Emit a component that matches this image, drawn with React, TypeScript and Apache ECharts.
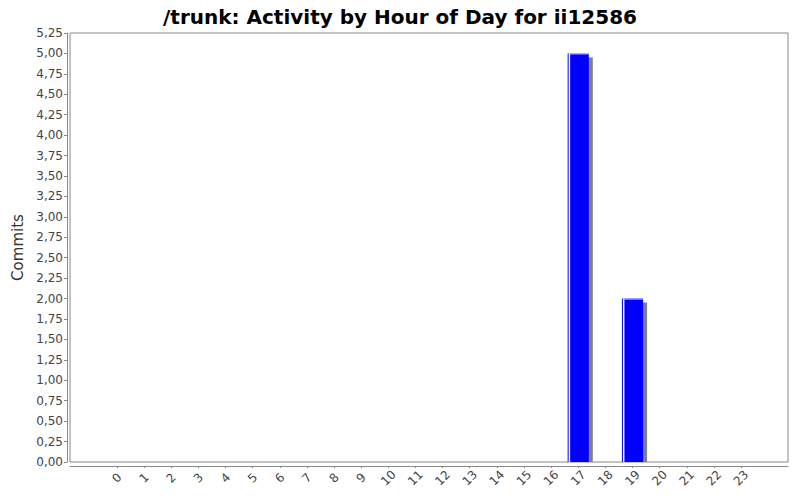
import React, { useEffect, useRef } from "react";
import * as echarts from "echarts";

const hours = Array.from({ length: 24 }, (_, i) => String(i));
const commits = [0, 0, 0, 0, 0, 0, 0, 0, 0, 0, 0, 0, 0, 0, 0, 0, 0, 5, 0, 2, 0, 0, 0, 0];
const chartTitle = "/trunk: Activity by Hour of Day for ii12586";
const yName = "Commits";
const yMax = 5.25;
const yStep = 0.25;

const FONT = "DejaVu Sans";

export default function App() {
  const ref = useRef<HTMLDivElement>(null);
  useEffect(() => {
    if (!ref.current) return;
    const chart = echarts.init(ref.current, undefined, { renderer: "svg" });
    const data = commits
      .map((v, i) => [i, v])
      .filter((d) => d[1] > 0);
    chart.setOption({
      animation: false,
      backgroundColor: "#ffffff",
      title: {
        text: chartTitle,
        left: "center",
        top: 2,
        textStyle: { fontFamily: FONT, fontWeight: "bold", fontSize: 20, color: "#000" },
      },
      grid: [
        { left: 70, right: 12, top: 33, bottom: 38, show: true, borderColor: "#888", borderWidth: 1, backgroundColor: "#fff" },
        { left: 103.4, right: 45.4, top: 33, bottom: 38 },
      ],
      xAxis: [
        {
          type: "value",
          gridIndex: 0,
          min: 0,
          max: 1,
          offset: 4,
          axisLine: { show: true, onZero: false, lineStyle: { color: "#888" } },
          axisTick: { show: false },
          axisLabel: { show: false },
          splitLine: { show: false },
        },
        {
          type: "category",
          gridIndex: 1,
          data: hours,
          offset: 4,
          axisLine: { show: false, onZero: false },
          axisTick: { show: true, alignWithLabel: true, length: 2, lineStyle: { color: "#888" } },
          axisLabel: {
            rotate: 45,
            interval: 0,
            margin: 12,
            align: "center",
            verticalAlign: "middle",
            fontFamily: FONT,
            fontSize: 12,
            color: "#444",
          },
        },
      ],
      yAxis: [
        {
          type: "value",
          gridIndex: 0,
          min: 0,
          max: yMax,
          interval: yStep,
          offset: 3,
          name: yName,
          nameLocation: "middle",
          nameGap: 40,
          nameTextStyle: { fontFamily: FONT, fontSize: 15, color: "#333" },
          axisLine: { show: true, onZero: false, lineStyle: { color: "#888" } },
          axisTick: { show: true, length: 3, lineStyle: { color: "#888" } },
          splitLine: { show: false },
          axisLabel: {
            fontFamily: FONT,
            fontSize: 12,
            color: "#444",
            margin: 4,
            formatter: (v: number) => v.toFixed(2).replace(".", ","),
          },
        },
        { type: "value", gridIndex: 1, min: 0, max: yMax, show: false },
      ],
      series: [
        {
          type: "custom",
          xAxisIndex: 1,
          yAxisIndex: 1,
          data,
          renderItem: (params: any, api: any) => {
            const x = api.value(0);
            const y = api.value(1);
            const top = api.coord([x, y]);
            const base = api.coord([x, 0]);
            const bw = api.size([1, 0])[0] * 0.78;
            const left = top[0] - bw / 2;
            const h = base[1] - top[1];
            return {
              type: "group",
              children: [
                { type: "rect", shape: { x: left + 4, y: top[1] + 4, width: bw, height: h - 4 }, style: { fill: "#808080" } },
                { type: "rect", shape: { x: left, y: top[1], width: bw, height: h }, style: { fill: "#0000ff" } },
                { type: "rect", shape: { x: left + 1, y: top[1], width: 1.5, height: h }, style: { fill: "#ffffff" } },
                { type: "rect", shape: { x: left + 1, y: top[1], width: bw - 1, height: 1 }, style: { fill: "#c8c8ff" } },
              ],
            };
          },
        },
      ],
    });
    return () => chart.dispose();
  }, []);
  return <div ref={ref} style={{ width: 800, height: 500, position: "absolute", left: 0, top: 0 }} />;
}
